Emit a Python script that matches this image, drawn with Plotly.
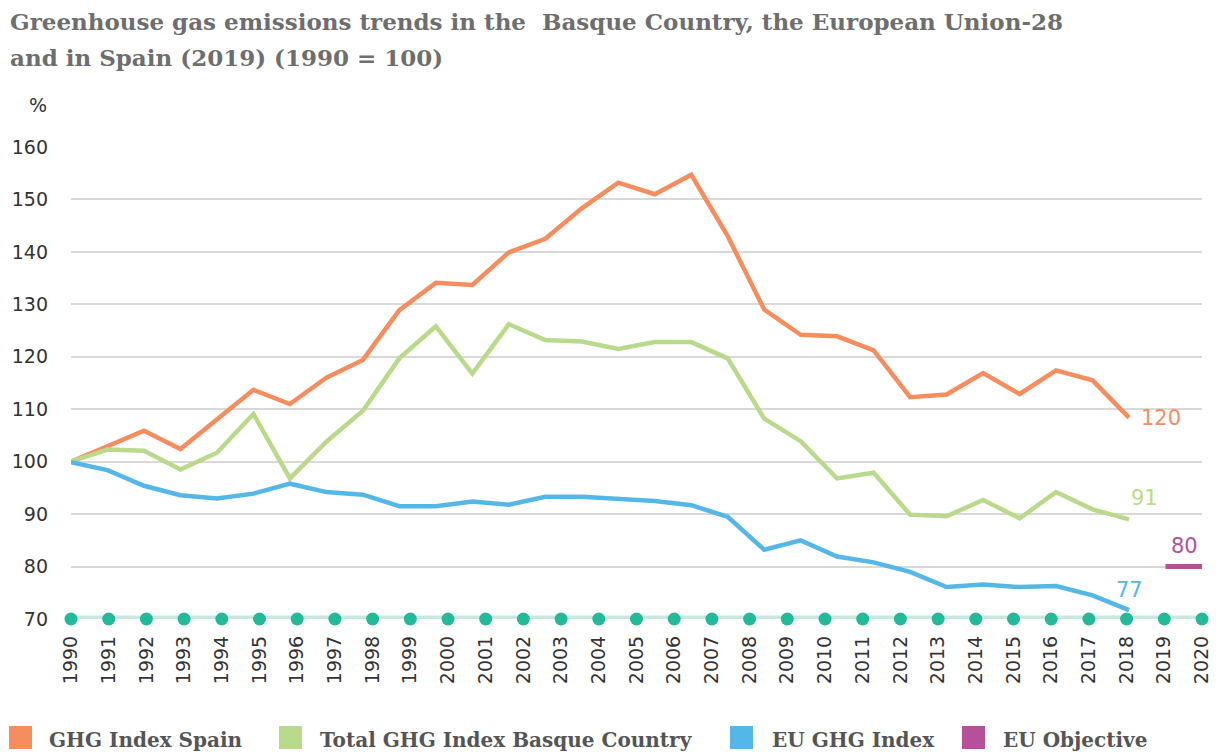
import plotly.graph_objects as go

# data (index, 1990 = 100)
years = list(range(1990, 2020))
spain = [100, 103.0, 105.9, 102.4, 108.0, 113.7, 111.0, 116.0, 119.4, 128.9,
         134.1, 133.7, 139.9, 142.5, 148.3, 153.2, 151.0, 154.7, 143.0, 129.0,
         124.2, 123.9, 121.2, 112.3, 112.8, 116.9, 112.9, 117.4, 115.5, 108.4]
basque = [100, 102.3, 102.1, 98.5, 101.7, 109.1, 96.8, 103.8, 109.7, 119.7,
          125.8, 116.8, 126.2, 123.2, 122.9, 121.5, 122.8, 122.8, 119.7, 108.2,
          103.9, 96.8, 97.9, 89.9, 89.6, 92.7, 89.2, 94.2, 90.9, 89.0]
eu = [99.9, 98.4, 95.4, 93.6, 93.0, 93.9, 95.8, 94.2, 93.7, 91.5,
      91.5, 92.4, 91.8, 93.3, 93.3, 92.8, 92.5, 91.7, 89.5, 83.2,
      85.0, 81.9, 80.8, 79.0, 76.1, 76.6, 76.1, 76.3, 74.5, 71.7]
eu_objective_years = [2020, 2021]
eu_objective = [80, 80]

end_labels = ["120", "91", "77", "80"]
axis_years = list(range(1990, 2021))
y_ticks = list(range(70, 161, 10))

names = ["GHG Index Spain", "Total GHG Index Basque Country", "EU GHG Index", "EU Objective"]
colors = ["#F58D5F", "#B9D98B", "#55B7E8", "#B5509B"]

TEAL = "#23B999"
TEAL_LIGHT = "#C7E8DF"
TICK_FONT = "DejaVu Sans"
SLAB_FONT = "DejaVu Serif"

# the page body keeps its default 8px margin, so the figure is drawn 8px smaller
OFF = 8
W_FIG, H_FIG = 1222 - OFF, 755 - OFF
L, R, T, B = 71 - OFF, 20, 147 - OFF, 136
PW = W_FIG - L - R
PH = H_FIG - T - B


def px_x(px):
    # px is a position measured on the 1222x755 page
    return (px - OFF - L) / PW


def px_y(py):
    return (H_FIG - B - (py - OFF)) / PH


fig = go.Figure()

# baseline row of dots along the bottom
fig.add_trace(go.Scatter(
    x=axis_years, y=[y_ticks[0]] * len(axis_years),
    mode="lines+markers",
    line=dict(color=TEAL_LIGHT, width=7),
    marker=dict(color=TEAL, size=13),
    cliponaxis=False, showlegend=False, hoverinfo="skip",
))

series = [spain, basque, eu]
for vals, name, col in zip(series, names, colors):
    fig.add_trace(go.Scatter(
        x=years, y=vals, xaxis="x2", mode="lines", name=name,
        line=dict(color=col, width=4.5), showlegend=False,
    ))

fig.add_trace(go.Scatter(
    x=eu_objective_years, y=eu_objective, xaxis="x2", mode="lines",
    name=names[3], line=dict(color=colors[3], width=5), showlegend=False,
))

# labels at line ends
label_font = dict(family=TICK_FONT, size=21)
fig.add_annotation(x=years[-1], y=spain[-1], xref="x2", yref="y", text=end_labels[0],
                   showarrow=False, xanchor="left", xshift=10,
                   font=dict(label_font, color=colors[0]))
fig.add_annotation(x=years[-1], y=basque[-1], xref="x2", yref="y", text=end_labels[1],
                   showarrow=False, xanchor="left", xshift=0, yshift=21,
                   font=dict(label_font, color=colors[1]))
fig.add_annotation(x=years[-1], y=eu[-1], xref="x2", yref="y", text=end_labels[2],
                   showarrow=False, xanchor="center", yshift=20,
                   font=dict(label_font, color=colors[2]))
fig.add_annotation(x=eu_objective_years[-1], y=eu_objective[-1], xref="x2", yref="y",
                   text=end_labels[3], showarrow=False, xanchor="right", xshift=-2, yshift=21,
                   font=dict(label_font, color=colors[3]))

# title, two lines
title_font = dict(family=SLAB_FONT, size=23, color="#6E6E6E")
fig.add_annotation(x=px_x(8), y=px_y(22), xref="paper", yref="paper", showarrow=False,
                   xanchor="left", yanchor="middle",
                   text="<b>Greenhouse gas emissions trends in the  Basque Country, the European Union-28</b>",
                   font=title_font)
fig.add_annotation(x=px_x(8), y=px_y(57), xref="paper", yref="paper", showarrow=False,
                   xanchor="left", yanchor="middle",
                   text="<b>and in Spain (2019) (1990 = 100)</b>", font=title_font)

# unit
fig.add_annotation(x=px_x(38), y=px_y(105), xref="paper", yref="paper", showarrow=False,
                   xanchor="center", yanchor="middle",
                   text="%", font=dict(family=TICK_FONT, size=19, color="#333333"))

# legend drawn by hand: squares + text
legend_sq = [9, 279, 730, 962]
legend_txt = [47, 318, 770, 1001]
for sq, tx, name, col in zip(legend_sq, legend_txt, names, colors):
    fig.add_shape(type="rect", xref="paper", yref="paper",
                  x0=px_x(sq), x1=px_x(sq + 23), y0=px_y(726), y1=px_y(749),
                  fillcolor=col, line_width=0)
    fig.add_annotation(x=px_x(tx), y=px_y(740), xref="paper", yref="paper", showarrow=False,
                       xanchor="left", yanchor="middle", text="<b>" + name + "</b>",
                       font=dict(family=SLAB_FONT, size=20, color="#555555"))

fig.update_layout(
    width=W_FIG, height=H_FIG,
    margin=dict(l=L, r=R, t=T, b=B),
    plot_bgcolor="white", paper_bgcolor="white",
    showlegend=False,
    xaxis=dict(range=[axis_years[0], axis_years[-1]], tickmode="array", tickvals=axis_years,
               tickangle=-90, ticklabelstandoff=12, showgrid=False, zeroline=False,
               showline=False, ticks="", automargin=False,
               tickfont=dict(family=TICK_FONT, size=19, color="#333333")),
    xaxis2=dict(range=[years[0], eu_objective_years[-1]], overlaying="x", visible=False),
    yaxis=dict(range=[y_ticks[0], y_ticks[-1]], tickmode="array", tickvals=y_ticks,
               showgrid=True, gridcolor="#D9D9D9", gridwidth=2, zeroline=False,
               showline=False, ticks="", ticklabelstandoff=22, automargin=False,
               tickfont=dict(family=TICK_FONT, size=19, color="#333333")),
)

fig.write_html("out.html")
